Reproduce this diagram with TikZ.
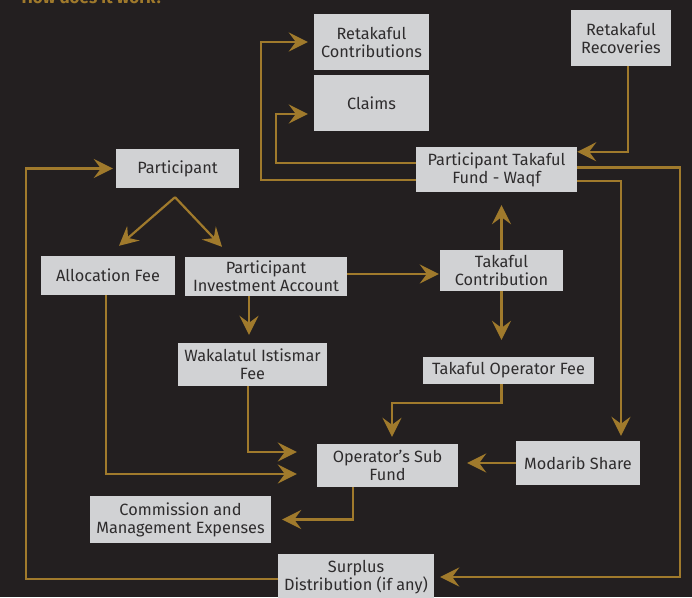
\documentclass[tikz,border=0pt]{standalone}
\usepackage{fontspec}
\setmainfont{Fira Sans}
\usetikzlibrary{arrows.meta}
\definecolor{bgdark}{HTML}{231F20}
\definecolor{boxgray}{HTML}{D1D2D4}
\definecolor{boxtext}{HTML}{2E2C2D}
\definecolor{gold}{HTML}{A07A2C}
\begin{document}
\begin{tikzpicture}[x=1pt, y=-1pt,
	fundbox/.style={fill=boxgray, text=boxtext, inner sep=0pt, align=center,
		font=\fontsize{16.3}{18}\selectfont},
	flow/.style={gold, line width=2.2pt,
		-{Stealth[length=19pt, width=19pt, inset=7pt]}}]
	% Background and title.
	\fill[bgdark] (0, 0) rectangle (692, 597);
	\useasboundingbox (0, 0) rectangle (692, 597);
	\node[anchor=base west, gold, font=\fontsize{17}{20}\bfseries\selectfont]
		(title) at (18, 4) {How does it work?};
	% Boxes.
	\node[fundbox, minimum width=115pt, minimum height=56pt]
		(rcon) at (371.5, 42) {Retakaful\\Contributions};
	\node[fundbox, minimum width=115pt, minimum height=56pt]
		(claims) at (371.5, 103) {Claims};
	\node[fundbox, minimum width=100pt, minimum height=56pt]
		(rrec) at (621, 38) {Retakaful\\Recoveries};
	\node[fundbox, minimum width=161pt, minimum height=45pt]
		(ptf) at (496.5, 169.5) {Participant Takaful\\Fund - Waqf};
	\node[fundbox, minimum width=123pt, minimum height=39pt]
		(part) at (177.5, 168.5) {Participant};
	\node[fundbox, minimum width=134pt, minimum height=39pt]
		(alloc) at (108, 275.5) {Allocation Fee};
	\node[fundbox, minimum width=162pt, minimum height=39pt]
		(pia) at (266, 276.5) {Participant\\Investment Account};
	\node[fundbox, minimum width=123pt, minimum height=41pt]
		(tc) at (501.5, 270.5) {Takaful\\Contribution};
	\node[fundbox, minimum width=149pt, minimum height=43pt]
		(wak) at (252.5, 364.5) {Wakalatul Istismar\\Fee};
	\node[fundbox, minimum width=171pt, minimum height=27pt]
		(tof) at (508.5, 370.5) {Takaful Operator Fee};
	\node[fundbox, minimum width=141pt, minimum height=43pt]
		(osf) at (387.5, 465.5) {Operator's Sub\\Fund};
	\node[fundbox, minimum width=124pt, minimum height=44pt]
		(mod) at (578, 463) {Modarib Share};
	\node[fundbox, minimum width=181pt, minimum height=47pt]
		(comm) at (180.5, 519.5) {Commission and\\Management Expenses};
	\node[fundbox, minimum width=156pt, minimum height=46pt]
		(surp) at (356, 577) {Surplus\\Distribution (if any)};
	% Takaful fund flows.
	\draw[flow] ([xshift=7pt]rrec.south) |- ([yshift=-5pt]ptf.north east);
	\draw[flow] ([yshift=12pt]ptf.south west) -- ++(-155, 0)
		|- ([xshift=-6pt]rcon.west);
	\draw[flow] ([yshift=-16pt]ptf.north west) -- ++(-140, 0)
		|- ([xshift=-6pt, yshift=-11pt]claims.west);
	\draw[flow] ([yshift=2pt]ptf.east) -- ++(103, 0)
		|- ([xshift=6pt]surp.east);
	\draw[flow] ([yshift=-11.5pt]ptf.east)
		-| ([xshift=43pt, yshift=5pt]mod.north);
	\draw[flow] ([yshift=-2pt]surp.west) -- ++(-252, 0)
		|- ([xshift=-3pt]part.west);
	% Participant flows.
	\coordinate (fork) at ([xshift=-2.5pt, yshift=-9pt]part.south);
	\draw[flow] (fork) -- ([xshift=11pt, yshift=10pt]alloc.north);
	\draw[flow] (fork) -- ([xshift=-44pt, yshift=10pt]pia.north);
	\draw[flow, shorten >=8pt] ([xshift=-17pt]pia.south)
		-- ([xshift=-3.5pt]wak.north);
	\draw[flow, shorten >=1pt] ([yshift=2.5pt]pia.east)
		-- ([yshift=2.5pt]pia.east -| tc.west);
	\draw[flow, shorten >=13pt] (tc.north) -- (tc.north |- ptf.south);
	\draw[flow, shorten >=17pt] (tc.south) -- (tc.south |- tof.north);
	% Operator's sub fund flows.
	\draw[flow] ([xshift=-7pt]tof.south) -- ++(0, 19)
		-| ([xshift=4.5pt, yshift=7pt]osf.north);
	\draw[flow] ([xshift=-4.5pt]wak.south)
		|- ([xshift=-20pt, yshift=13.5pt]osf.west);
	\draw[flow] ([xshift=-2pt]alloc.south)
		|- ([xshift=-20pt, yshift=-8.5pt]osf.west);
	\draw[flow, shorten >=9pt] (mod.west) -- (mod.west -| osf.east);
	\draw[flow] ([xshift=-34.5pt]osf.south) |- ([xshift=11pt]comm.east);
\end{tikzpicture}
\end{document}
